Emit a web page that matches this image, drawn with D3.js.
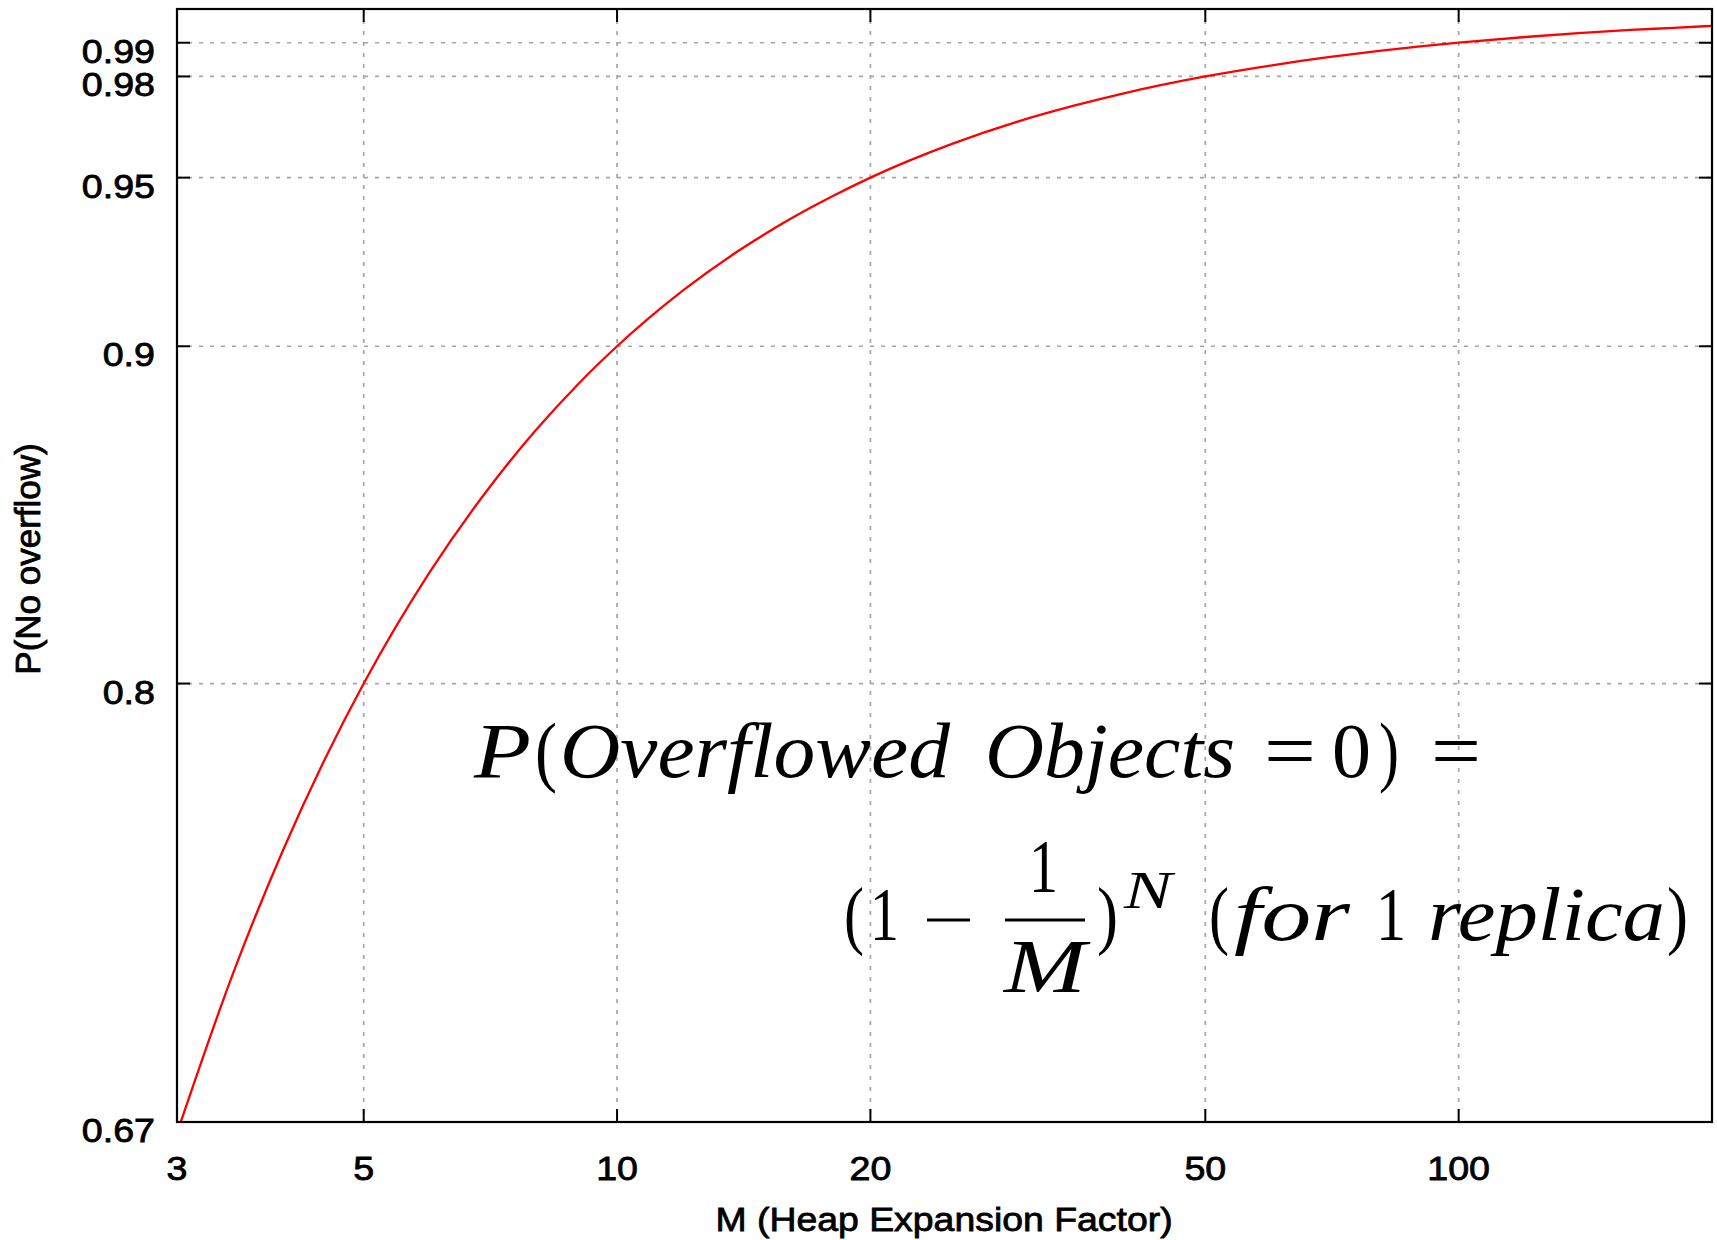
<!DOCTYPE html>
<html>
<head>
<meta charset="utf-8">
<script src="https://cdn.jsdelivr.net/npm/d3@7"></script>
<style>
  html, body { margin: 0; padding: 0; background: #fff; }
  svg { display: block; }
</style>
</head>
<body>
<svg id="chart" width="1717" height="1240"></svg>
<script>
// ---- data ----
const heapFactor = [3, 3.5, 4, 4.5, 5, 6, 7, 8, 9, 10, 12, 14, 16, 18, 20, 25, 30, 35, 40, 50, 60, 70, 80, 90, 100, 120, 140, 160, 180, 200];
const pNoOverflow = [0.6667, 0.7143, 0.7500, 0.7778, 0.8000, 0.8333, 0.8571, 0.8750, 0.8889, 0.9000, 0.9167, 0.9286, 0.9375, 0.9444, 0.9500, 0.9600, 0.9667, 0.9714, 0.9750, 0.9800, 0.9833, 0.9857, 0.9875, 0.9889, 0.9900, 0.9917, 0.9929, 0.9938, 0.9944, 0.9950];
const xTickValues = [3, 5, 10, 20, 50, 100];
const yTickValues = [0.67, 0.8, 0.9, 0.95, 0.98, 0.99];
const xDomain = [3, 200];
const yDomain = [0.67, 1.0];
const xTitle = "M (Heap Expansion Factor)";
const yTitle = "P(No overflow)";

const svg = d3.select("#chart");
const L = 177, R = 1712, T = 9, B = 1122;

const x = d3.scaleLog().domain(xDomain).range([L, R]);
const y = d3.scaleLinear().domain(yDomain).range([B, T]);

// clip
svg.append("defs").append("clipPath").attr("id", "plotclip")
  .append("rect").attr("x", L).attr("y", T).attr("width", R - L).attr("height", B - T);

// grid
const grid = svg.append("g").attr("stroke", "#a6a6a6").attr("stroke-width", 1.7)
  .attr("stroke-dasharray", "4,7");
grid.selectAll("line.gx").data(xTickValues.filter(d => d !== xDomain[0])).join("line")
  .attr("x1", d => x(d)).attr("x2", d => x(d)).attr("y1", T).attr("y2", B);
grid.selectAll("line.gy").data(yTickValues.filter(d => d !== yDomain[0])).join("line")
  .attr("x1", L).attr("x2", R).attr("y1", d => y(d)).attr("y2", d => y(d));

// math annotation (drawn over grid like the reference)
const math = svg.append("g").attr("fill", "#000").attr("font-family", "'Liberation Serif', 'DejaVu Serif', serif");
function piece(str, x0, x1, base, size, italic) {
  const t = math.append("text").attr("x", x0).attr("y", base)
    .attr("font-size", size).attr("font-style", italic ? "italic" : "normal").text(str);
  if (x1 != null) t.attr("textLength", x1 - x0).attr("lengthAdjust", "spacingAndGlyphs");
  return t;
}
// line 1
const b1 = 777, f1 = 78;
piece("P", 474, 531, b1, f1, true);
piece("(", 535, 557, b1, f1, false);
piece("Overflowed", 560, 950, b1, f1, true);
piece("Objects", 985, 1235, b1, f1, true);
piece("=", 1264, 1316, b1, f1, false);
piece("0", 1332, 1371, b1, f1, false);
piece(")", 1379, 1399, b1, f1, false);
piece("=", 1431, 1481, b1, f1, false);
// line 2
const b2 = 940, f2 = 76;
piece("(", 844, 864, b2, f2, false);
piece("1", 870, 899, b2, f2, false);
math.append("rect").attr("x", 927).attr("y", 918.5).attr("width", 43).attr("height", 3); // minus sign
piece("1", 1029, 1058, 892, f2, false);
math.append("rect").attr("x", 1005).attr("y", 918.5).attr("width", 80).attr("height", 3); // fraction bar
piece("M", 1004, 1086, 992, f2, true);
piece(")", 1097, 1118, b2, f2, false);
piece("N", 1124, 1172, 908, 52, true);
piece("(", 1209, 1229, b2, f2, false);
piece("for", 1234, 1350, b2, f2, true);
piece("1", 1376, 1406, b2, f2, false);
piece("replica", 1428, 1665, b2, f2, true);
piece(")", 1667, 1688, b2, f2, false);

// curve
const lineGen = d3.line().x((d, i) => x(heapFactor[i])).y(d => y(d)).curve(d3.curveMonotoneX);
svg.append("path").datum(pNoOverflow)
  .attr("clip-path", "url(#plotclip)")
  .attr("fill", "none").attr("stroke", "#ff0000").attr("stroke-width", 2.3)
  .attr("d", lineGen);

// ticks (mirrored, inward)
const tk = 13;
const ticks = svg.append("g").attr("stroke", "#000").attr("stroke-width", 2);
ticks.selectAll("line.xb").data(xTickValues).join("line")
  .attr("x1", d => x(d)).attr("x2", d => x(d)).attr("y1", B).attr("y2", B - tk);
ticks.selectAll("line.xt").data(xTickValues).join("line")
  .attr("x1", d => x(d)).attr("x2", d => x(d)).attr("y1", T).attr("y2", T + tk);
ticks.selectAll("line.yl").data(yTickValues).join("line")
  .attr("x1", L).attr("x2", L + tk).attr("y1", d => y(d)).attr("y2", d => y(d));
ticks.selectAll("line.yr").data(yTickValues).join("line")
  .attr("x1", R).attr("x2", R - tk).attr("y1", d => y(d)).attr("y2", d => y(d));

// frame
svg.append("rect").attr("x", L).attr("y", T).attr("width", R - L).attr("height", B - T)
  .attr("fill", "none").attr("stroke", "#000").attr("stroke-width", 2.2);

// tick labels
const labels = svg.append("g").attr("font-family", "'Liberation Sans', Arial, sans-serif")
  .attr("fill", "#000").attr("stroke", "#000").attr("stroke-width", 0.8);
const sx = 1.14;
labels.selectAll("text.yl").data(yTickValues).join("text")
  .attr("transform", d => `translate(155,${y(d) + 20}) scale(${sx},1)`)
  .attr("text-anchor", "end").attr("font-size", 33)
  .text(d => String(d));
labels.selectAll("text.xl").data(xTickValues).join("text")
  .attr("transform", d => `translate(${x(d)},1180) scale(${sx},1)`)
  .attr("text-anchor", "middle").attr("font-size", 33)
  .text(d => String(d));

// axis titles
labels.append("text")
  .attr("transform", `translate(944,1231) scale(1.1,1)`)
  .attr("text-anchor", "middle").attr("font-size", 34).text(xTitle);
labels.append("text")
  .attr("transform", `translate(40,559) rotate(-90)`)
  .attr("text-anchor", "middle").attr("font-size", 35).text(yTitle);
</script>
</body>
</html>
